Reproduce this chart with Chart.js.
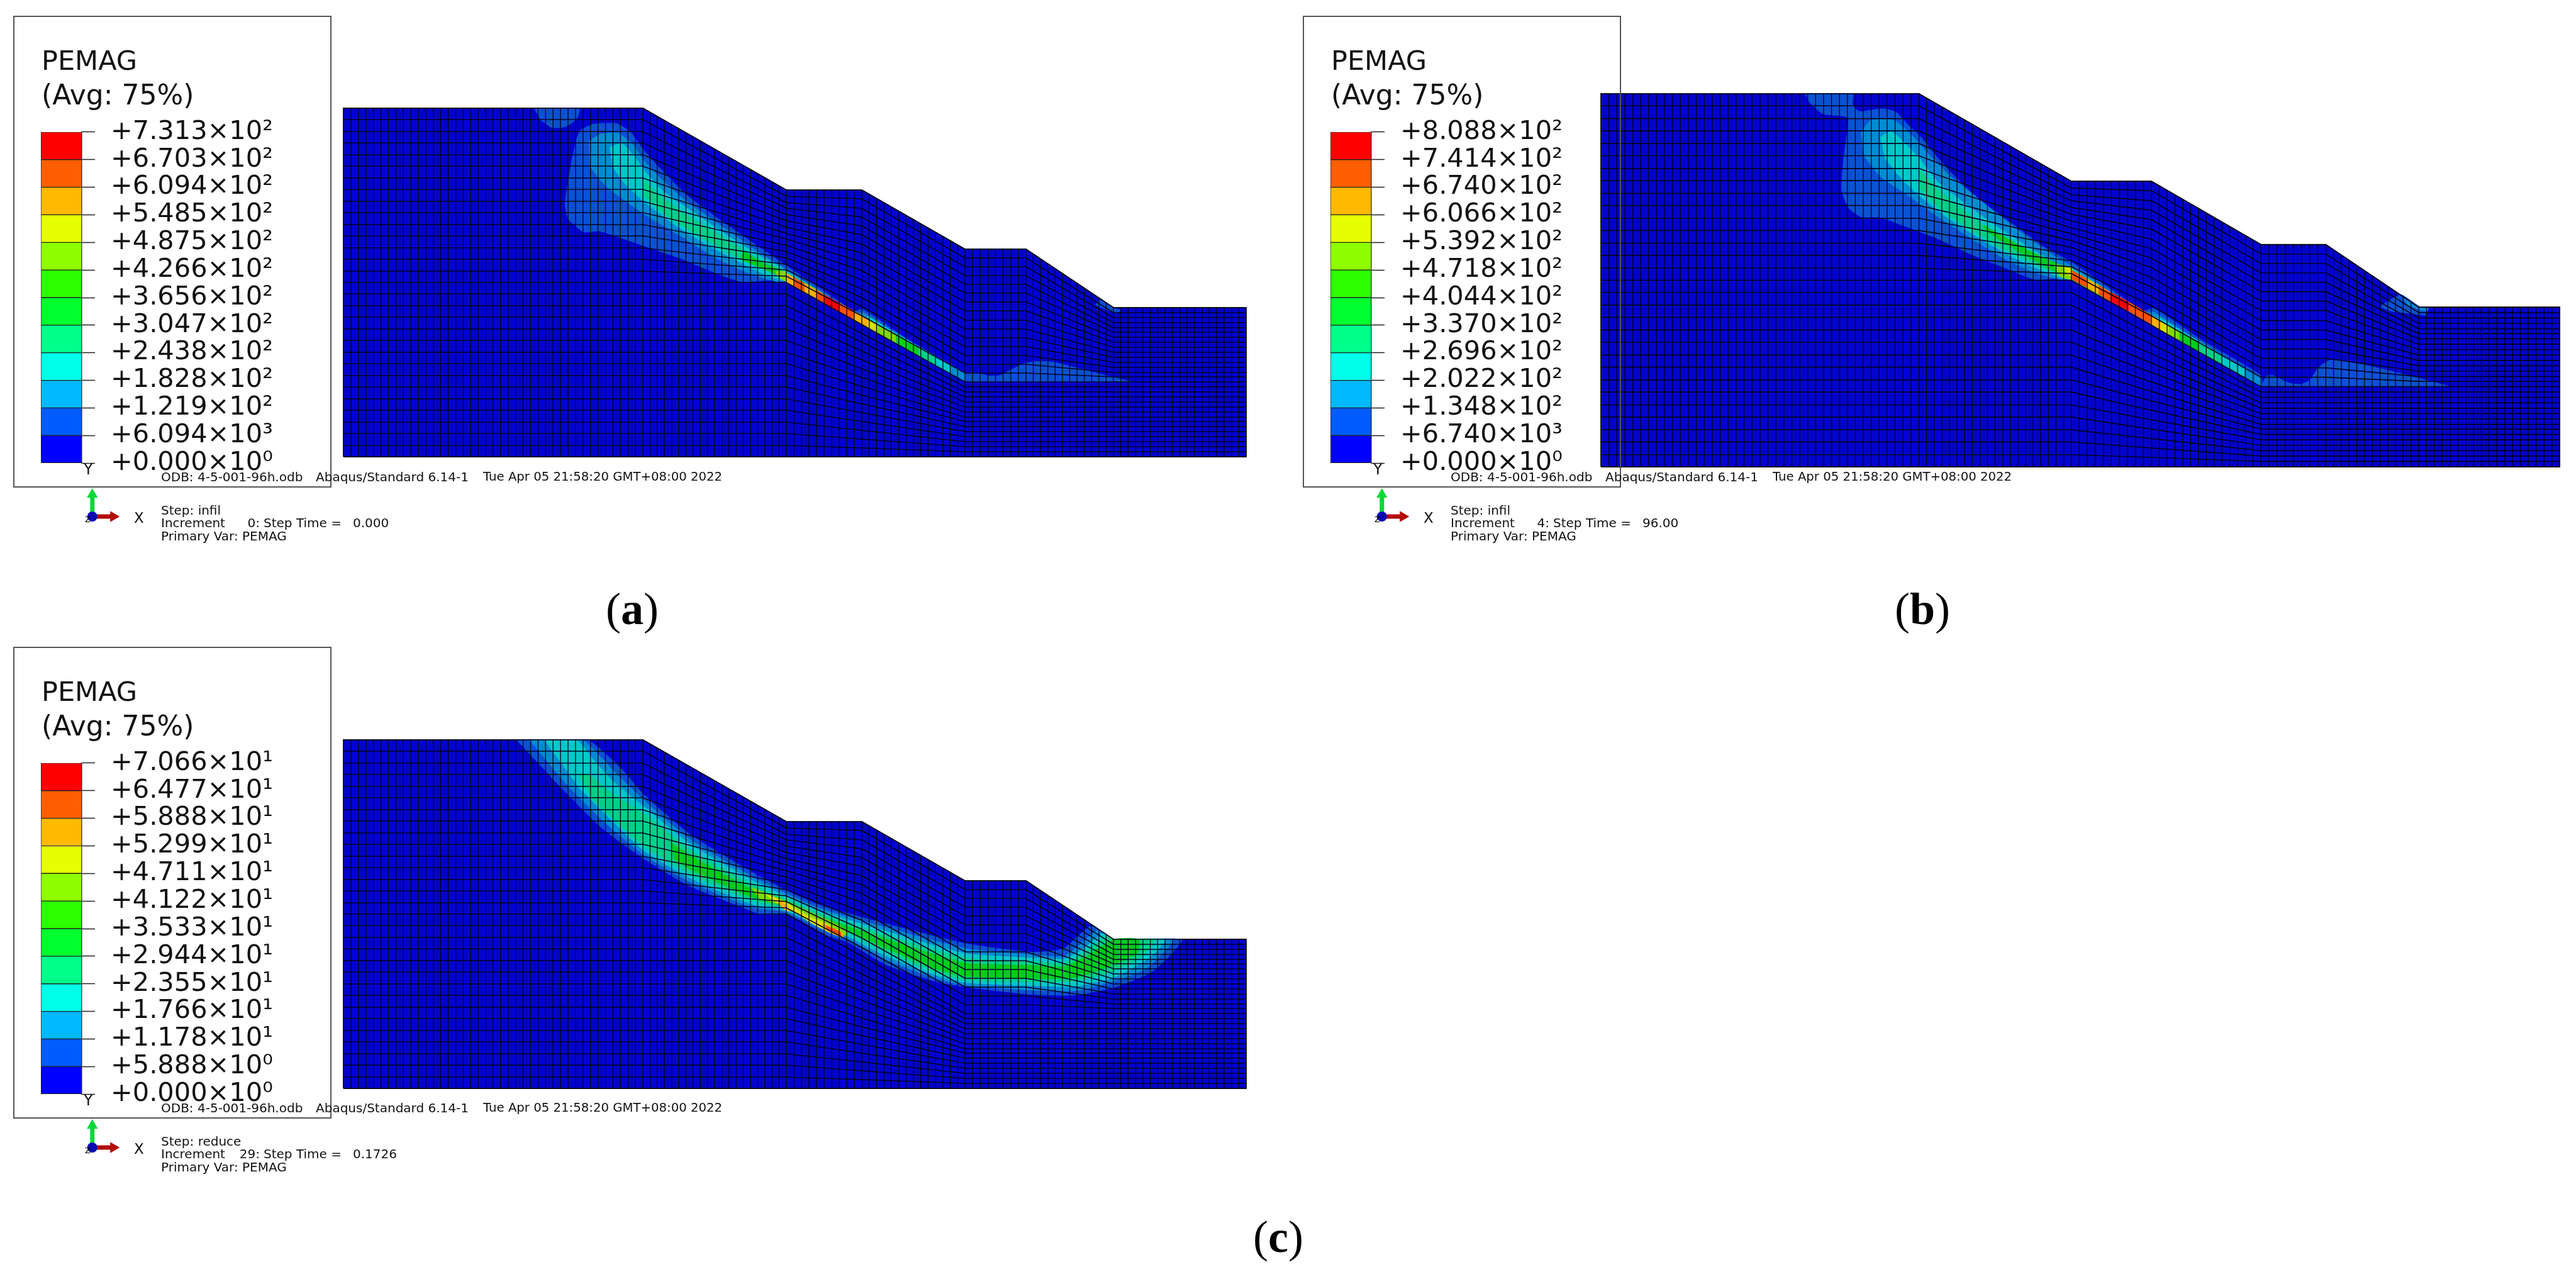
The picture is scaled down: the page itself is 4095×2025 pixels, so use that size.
<!DOCTYPE html>
<html>
<head>
<meta charset="utf-8">
<title>PEMAG</title>
<script src="https://cdn.jsdelivr.net/npm/chart.js@4"></script>
<style>
    html, body { margin: 0; padding: 0; background: #fff; }
    #page { position: relative; width: 4095px; height: 2025px; overflow: hidden; }
    canvas { position: absolute; }
    .txt { position: absolute; white-space: pre; line-height: 1; color: #111; font-family: "DejaVu Sans", sans-serif; z-index: 5; }
    .box { position: absolute; border: 2px solid #555; box-sizing: border-box; z-index: 4; }
    .cap { position: absolute; line-height: 1; color: #000; font-family: "Liberation Serif", serif; font-size: 72px; transform: translateX(-50%); }
</style>
</head>
<body>
<div id="page"></div>
<script>
// legend values
const levelsA = [731.3, 670.3, 609.4, 548.5, 487.5, 426.6, 365.6, 304.7, 243.8, 182.8, 121.9, 60.94, 0]
const levelsB = [808.8, 741.4, 674.0, 606.6, 539.2, 471.8, 404.4, 337.0, 269.6, 202.2, 134.8, 67.40, 0]
const levelsC = [70.66, 64.77, 58.88, 52.99, 47.11, 41.22, 35.33, 29.44, 23.55, 17.66, 11.78, 5.888, 0]

const labelsA = ['+7.313×10²', '+6.703×10²', '+6.094×10²', '+5.485×10²', '+4.875×10²', '+4.266×10²', '+3.656×10²', '+3.047×10²', '+2.438×10²', '+1.828×10²', '+1.219×10²', '+6.094×10³', '+0.000×10⁰']
const labelsB = ['+8.088×10²', '+7.414×10²', '+6.740×10²', '+6.066×10²', '+5.392×10²', '+4.718×10²', '+4.044×10²', '+3.370×10²', '+2.696×10²', '+2.022×10²', '+1.348×10²', '+6.740×10³', '+0.000×10⁰']
const labelsC = ['+7.066×10¹', '+6.477×10¹', '+5.888×10¹', '+5.299×10¹', '+4.711×10¹', '+4.122×10¹', '+3.533×10¹', '+2.944×10¹', '+2.355×10¹', '+1.766×10¹', '+1.178×10¹', '+5.888×10⁰', '+0.000×10⁰']

const bandColors = ['#FF0000', '#FF5F00', '#FFB900', '#E6FF00', '#8FFF00', '#2EFF00', '#00FF2E', '#00FF8B', '#00FFE8', '#00B9FF', '#005CFF', '#0000FF']

// shaded colours on the mesh, index = contour level
const contourColors = ['#0303CC', '#0A52D2', '#008CD2', '#00C8C8', '#00D088', '#00CC20', '#80D800', '#D8E000', '#FFB000', '#FF5000', '#FF0000']

// slope outline, model metres
const outline = [[0, 0], [0, 55.4], [47.6, 55.4], [70.4, 42.4], [82.4, 42.4], [98.8, 33], [108.5, 33], [122.4, 23.7], [143.5, 23.7], [143.5, 0], [0, 0]]

// mesh rows: y of each of the 31 rows at the break columns
const breakX = [0, 47.6, 70.4, 82.4, 98.8, 108.5, 122.4, 143.5]
const rowsLeft = [55.4, 53.6, 51.7, 49.9, 48.0, 46.2, 44.3, 42.5, 40.6, 38.8, 36.9, 35.1, 33.2, 31.4, 29.5, 27.7, 25.9, 24.0, 22.2, 20.3, 18.5, 16.6, 14.8, 12.9, 11.1, 9.2, 7.4, 5.5, 3.7, 1.8, 0]
const rowsBench1 = [42.4, 41.4, 40.4, 39.5, 38.5, 37.5, 36.5, 35.5, 34.6, 33.6, 32.6, 31.6, 30.6, 29.7, 28.7, 27.7, 25.9, 24.0, 22.2, 20.3, 18.5, 16.6, 14.8, 12.9, 11.1, 9.2, 7.4, 5.5, 3.7, 1.8, 0]
const rowsBench1End = [42.4, 41.0, 39.5, 38.1, 36.7, 35.3, 33.8, 32.4, 31.0, 29.6, 28.1, 26.7, 25.3, 23.9, 22.4, 21.0, 19.6, 18.2, 16.8, 15.4, 14.0, 12.6, 11.2, 9.8, 8.4, 7.0, 5.6, 4.2, 2.8, 1.4, 0]
const rowsBench2 = [33.0, 31.6, 30.2, 28.8, 27.4, 26.0, 24.6, 23.2, 21.7, 20.3, 18.9, 17.5, 16.1, 14.7, 13.3, 11.9, 11.1, 10.3, 9.5, 8.7, 7.9, 7.1, 6.3, 5.6, 4.8, 4.0, 3.2, 2.4, 1.6, 0.8, 0]
const rowsToe = [23.7, 22.9, 22.1, 21.3, 20.5, 19.8, 19.0, 18.2, 17.4, 16.6, 15.8, 15.0, 14.2, 13.4, 12.7, 11.9, 11.1, 10.3, 9.5, 8.7, 7.9, 7.1, 6.3, 5.6, 4.8, 4.0, 3.2, 2.4, 1.6, 0.8, 0]
const rowsAtBreak = [rowsLeft, rowsLeft, rowsBench1, rowsBench1End, rowsBench2, rowsBench2, rowsToe, rowsToe]

// mesh columns: x and surface height
const meshColumns = [
    [0, 55.4], [1.19, 55.4], [2.38, 55.4], [3.57, 55.4], [4.76, 55.4], [5.95, 55.4], [7.14, 55.4], [8.33, 55.4], [9.52, 55.4], [10.71, 55.4],
    [11.9, 55.4], [13.09, 55.4], [14.28, 55.4], [15.47, 55.4], [16.66, 55.4], [17.85, 55.4], [19.04, 55.4], [20.23, 55.4], [21.42, 55.4], [22.61, 55.4],
    [23.8, 55.4], [24.99, 55.4], [26.18, 55.4], [27.37, 55.4], [28.56, 55.4], [29.75, 55.4], [30.94, 55.4], [32.13, 55.4], [33.32, 55.4], [34.51, 55.4],
    [35.7, 55.4], [36.89, 55.4], [38.08, 55.4], [39.27, 55.4], [40.46, 55.4], [41.65, 55.4], [42.84, 55.4], [44.03, 55.4], [45.22, 55.4], [46.41, 55.4], [47.6, 55.4],
    [48.74, 54.75], [49.88, 54.1], [51.02, 53.45], [52.16, 52.8], [53.3, 52.15], [54.44, 51.5], [55.58, 50.85], [56.72, 50.2], [57.86, 49.55], [59, 48.9],
    [60.14, 48.25], [61.28, 47.6], [62.42, 46.95], [63.56, 46.3], [64.7, 45.65], [65.84, 45], [66.98, 44.35], [68.12, 43.7], [69.26, 43.05], [70.4, 42.4],
    [71.6, 42.4], [72.8, 42.4], [74, 42.4], [75.2, 42.4], [76.4, 42.4], [77.6, 42.4], [78.8, 42.4], [80, 42.4], [81.2, 42.4], [82.4, 42.4],
    [83.57, 41.73], [84.74, 41.06], [85.91, 40.39], [87.09, 39.71], [88.26, 39.04], [89.43, 38.37], [90.6, 37.7], [91.77, 37.03], [92.94, 36.36], [94.11, 35.69], [95.29, 35.01], [96.46, 34.34], [97.63, 33.67], [98.8, 33],
    [100.01, 33], [101.23, 33], [102.44, 33], [103.65, 33], [104.86, 33], [106.08, 33], [107.29, 33], [108.5, 33],
    [109.66, 32.23], [110.82, 31.45], [111.98, 30.68], [113.13, 29.9], [114.29, 29.13], [115.45, 28.35], [116.61, 27.58], [117.77, 26.8], [118.93, 26.03], [120.08, 25.25], [121.24, 24.48], [122.4, 23.7],
    [123.57, 23.7], [124.74, 23.7], [125.92, 23.7], [127.09, 23.7], [128.26, 23.7], [129.43, 23.7], [130.61, 23.7], [131.78, 23.7], [132.95, 23.7], [134.12, 23.7], [135.29, 23.7], [136.47, 23.7], [137.64, 23.7], [138.81, 23.7], [139.98, 23.7], [141.16, 23.7], [142.33, 23.7], [143.5, 23.7]
]

// contours of plot (a)
const aBlob = [[30.3, 55.4], [37.5, 55.4], [37.1, 53.7], [35.2, 52.4], [33.1, 52.3], [31.3, 53.5]]
const aMain = [[37.7, 52], [39.7, 52.9], [43.3, 53], [45.6, 51.7], [47.7, 48.8], [50.5, 45.7], [54.5, 41.7], [59.7, 37.8], [65.3, 33.9], [70.4, 30.4], [79.7, 24.1], [81, 23], [82.5, 23.5], [90, 18.5], [98.8, 13.4], [99.6, 13], [98.8, 11.9], [70.4, 27.8], [63.2, 27.8], [58.1, 29.6], [53.5, 31.5], [47.7, 33.5], [40.8, 35.8], [38.2, 35.7], [35.7, 37.8], [35.2, 40.2], [36.2, 46.8], [37.1, 50.8]]
const aHump = [[98.8, 11.9], [99.1, 13.3], [100.6, 13.4], [102.6, 12.9], [104.4, 13], [106.2, 13.9], [108.3, 14.9], [110.3, 15.2], [112.8, 15.1], [116.4, 14.2], [121.5, 12.9], [125.6, 11.9]]
const aToe = [[120.2, 25], [122.4, 23.7], [123.6, 23.3], [122.8, 22.8], [121, 23.5], [119.5, 24.1]]
const aSky = [[39, 50.2], [40.8, 51.3], [43.6, 51.5], [45.9, 49.8], [47.7, 47.2], [51, 43.7], [55.1, 40.2], [60.7, 36.3], [65.8, 32.7], [70.4, 29.8], [78.7, 24.3], [80.5, 22.6], [82.7, 22.9], [90, 18], [98, 13], [98.8, 11.9], [70.4, 27.8], [68.8, 27.8], [63.7, 29.4], [58.6, 31.9], [53.5, 35.1], [47.7, 38.6], [41.8, 42.9], [39.2, 46]]
const aCyan = [[42.3, 49.2], [44.3, 49.8], [46.4, 47.6], [47.7, 45.7], [51, 42.1], [56.1, 38.6], [61.2, 35.1], [66.3, 31.9], [70.4, 29.6], [70.4, 27.9], [67.3, 28.8], [63.2, 30.8], [58.1, 33.5], [53, 36.6], [47.7, 40.6], [44.8, 43.3], [42.8, 46]]
const aSpring = [[47.7, 44.1], [50.5, 41.4], [55.1, 38.2], [60.7, 34.7], [65.3, 31.9], [69.9, 29.6], [69.9, 28.4], [66.3, 30], [62.2, 31.9], [57.1, 34.7], [51.5, 38.2], [47.7, 41.4]]
const aGreen = [[63.7, 32.7], [66.3, 31], [69.9, 29.4], [69.9, 28.6], [66.3, 30], [63, 31.4]]
const aLime = [[68.5, 29.5], [70.4, 29.4], [71.5, 27.3], [70.4, 27.8], [69.3, 28.4]]

// contours of plot (b)
const bMain = [[30.5, 55.4], [37.7, 55.4], [37.7, 53.8], [38.7, 52.8], [41.8, 53.2], [44, 52.8], [46.1, 50.7], [47.7, 49.2], [50.5, 45.8], [53.8, 42.3], [57.2, 39.3], [62, 35.8], [66.8, 32.4], [70.5, 30.4], [79.5, 24.2], [81, 23], [82.7, 23.6], [90, 18.8], [98.8, 13.6], [98.8, 11.9], [70.5, 27.8], [64.9, 27.8], [60, 29.7], [55.2, 31.6], [50, 34], [45.2, 35.8], [41.8, 37], [38.9, 37.1], [37, 38.5], [36, 41.2], [36.3, 45.8], [37, 51.5], [36.5, 52], [33.2, 52.4], [31.2, 54.1]]
const bHump = [[98.8, 11.9], [99.6, 13.5], [100.6, 13.6], [103, 12.5], [104.7, 12.3], [106.1, 12.9], [107.3, 14.7], [109.2, 15.9], [111.6, 15.7], [116.9, 14.6], [123.2, 13], [127.3, 11.9]]
const bToe = [[116.7, 23.9], [118.4, 25], [119.8, 25.6], [122.7, 23.75], [123.9, 23.6], [123.4, 22.5], [121.7, 22.7], [118.6, 23], [116.9, 23.6]]
const bToeSky = [[120, 25.1], [122.7, 23.7], [123.9, 23.5], [123.2, 23.1], [120.8, 24]]
const bSky = [[38.9, 49.6], [40.4, 51.5], [43.7, 51.6], [46.6, 49.2], [49, 46.5], [52.4, 43.1], [57.2, 39.3], [62, 35.5], [66.8, 32], [70.5, 29.8], [79, 24.2], [80.8, 22.6], [82.7, 23], [90, 18.2], [98, 13.2], [98.8, 11.9], [70.5, 27.8], [68.7, 27.8], [64.4, 29], [59.6, 31.3], [54.8, 34.3], [50, 37.4], [45.2, 40.8], [41.8, 43.1], [39.4, 46.1]]
const bCyan = [[41.8, 49], [43.5, 49.8], [45.6, 48], [47.7, 45.8], [50.5, 42.3], [54.8, 38.9], [59.6, 35.5], [64.4, 32.4], [68.7, 29.9], [70.5, 29.2], [70.2, 27.8], [66.8, 28.8], [62, 30.9], [57.2, 33.6], [52.4, 36.6], [47.7, 40.2], [44.7, 43.1], [42.5, 45.8]]
const bSpring = [[47.7, 44.2], [50.5, 41.2], [54.8, 37.8], [59.6, 34.3], [64.4, 31.7], [69.2, 29.6], [69.2, 28.2], [64.4, 30.3], [59.6, 32.6], [54.8, 35.5], [50.5, 38.5], [47.7, 41.2]]
const bGreen = [[57.2, 36], [64.4, 32], [69.2, 29.7], [69.2, 28.5], [64.4, 30.8], [57.6, 35]]
const bLime = [[67.7, 30.1], [70.5, 29.6], [70.5, 27.8], [68.7, 28.2]]
const bYellow = [[69.4, 29.6], [70.5, 29.4], [70.5, 28.2], [69.7, 28.6]]

// band above the slip line, shared by (a) and (b)
const slipCyan1 = [[70.4, 29.5], [77.5, 25.2], [77.5, 24], [70.4, 27.8]]
const slipCyan2 = [[83.3, 22.4], [96.5, 14.4], [96.5, 13.2], [83.3, 20.6]]
const slipGreen1 = [[70.4, 29.2], [75.5, 26.4], [75.5, 25.1], [70.4, 27.8]]

// elements along the slip line: level, x1, low1, x2, low2, high2, high1
const aCells = [
    [8, 70.4, 27.8, 71.5, 27.2, 28.6, 29.2], [9, 71.5, 27.2, 73.3, 26.2, 27.6, 28.6], [8, 73.3, 26.2, 75.1, 25.2, 26.6, 27.6],
    [9, 75.1, 25.2, 76.4, 24.4, 25.8, 26.6], [10, 76.4, 24.4, 78.8, 23.1, 24.5, 25.8], [9, 78.8, 23.1, 81.2, 21.8, 23.2, 24.5],
    [8, 81.2, 21.8, 83.3, 20.6, 22, 23.2], [7, 83.3, 20.6, 84.8, 19.7, 21.1, 22], [6, 84.8, 19.7, 87.8, 18.1, 19.5, 21.1],
    [5, 87.8, 18.1, 91.4, 16, 17.4, 19.5], [4, 91.4, 16, 94, 14.6, 16, 17.4], [3, 94, 14.6, 96.5, 13.2, 14.6, 16], [2, 96.5, 13.2, 98.8, 11.9, 13.3, 14.6]
]
const bCells = [
    [9, 70.5, 27.8, 72.7, 26.6, 28, 29.2], [8, 72.7, 26.6, 74.5, 25.6, 27, 28], [9, 74.5, 25.6, 76.2, 24.6, 26, 27],
    [10, 76.2, 24.6, 79, 23.1, 24.5, 26], [9, 79, 23.1, 82.3, 21.2, 22.6, 24.5], [8, 82.3, 21.2, 83.8, 20.3, 21.7, 22.6],
    [7, 83.8, 20.3, 85, 19.6, 21, 21.7], [6, 85, 19.6, 86.6, 18.8, 20.2, 21], [5, 86.6, 18.8, 89.5, 17.1, 18.5, 20.2],
    [4, 89.5, 17.1, 92.9, 15.2, 16.6, 18.5], [3, 92.9, 15.2, 96.3, 13.3, 14.7, 16.6], [2, 96.3, 13.3, 98.8, 11.9, 13.3, 14.7]
]

// contours of plot (c)
const cBlue = [[27.5, 55.4], [38.7, 55.4], [41.8, 53.1], [44.3, 50.7], [47.7, 46.8], [55.1, 40.4], [64.8, 34.5], [70.4, 31.5], [75.6, 29.2], [86.3, 26.2], [98.8, 23.1], [109.3, 21.7], [114.4, 22.2], [116.4, 23.9], [119, 25.9], [122.4, 23.7], [133.3, 23.7], [131.2, 20.9], [128.2, 18.3], [122.4, 16], [116.4, 14.8], [109.3, 14.9], [98.8, 16.1], [94, 17], [86.3, 19.6], [80.2, 23.2], [77.1, 24.2], [70.4, 27.7], [66.3, 27.6], [64.8, 28.2], [55.1, 32.1], [47.7, 36.5], [40.8, 41.6], [34.1, 48.3]]
const cSky = [[29.5, 55.4], [37.9, 55.4], [41, 52.6], [43.6, 49.8], [47.7, 45.9], [55.1, 39.6], [64.8, 33.8], [70.4, 31], [75.6, 28.7], [86.3, 25.6], [98.8, 22.3], [109.3, 21.3], [114.4, 21], [116.4, 22.3], [120, 25.2], [122.4, 23.7], [131.9, 23.7], [129.8, 21], [127.2, 18.8], [122.4, 17], [116.4, 15.5], [109.3, 15.6], [98.8, 16.4], [94, 17.5], [86.3, 20.4], [80.2, 23.7], [77.1, 24.7], [70.4, 28], [64.8, 28.8], [55.1, 32.8], [47.7, 37.1], [41.5, 42.3], [35.7, 48]]
const cCyan = [[31.9, 55.4], [37, 55.4], [40, 52], [42.8, 48.9], [47.7, 44.9], [55.1, 38.9], [64.8, 33.2], [70.4, 30.6], [75.6, 28.3], [86.3, 25], [98.8, 21.5], [109.3, 20.8], [114.4, 20.6], [117, 21.8], [120.9, 24.7], [122.4, 23.7], [130.6, 23.7], [128.7, 21.2], [126, 19.4], [122.4, 17.6], [116.4, 16.2], [109.3, 16.3], [98.8, 16.8], [94, 18], [86.3, 21], [80.2, 24.1], [77.1, 25.2], [70.4, 28.2], [64.8, 29.3], [55.1, 33.4], [47.7, 37.8], [42.5, 42.7], [37.4, 47.8]]
const cSpring = [[37.3, 50], [39.3, 49.8], [42, 47.4], [47.7, 43.8], [55.1, 38], [64.8, 32.5], [70.4, 30.2], [75.6, 27.9], [86.3, 24.4], [98.8, 20.8], [109.3, 20.2], [114.4, 20], [118, 21.8], [121.5, 24.3], [122.4, 23.7], [129, 23.7], [127.5, 21.5], [125.3, 20], [122.4, 18.6], [116.4, 17], [109.3, 16.9], [98.8, 17.2], [94, 18.5], [86.3, 21.6], [80.2, 24.6], [77.1, 25.6], [70.4, 28.5], [64.8, 29.9], [55.1, 34.1], [47.7, 38.5], [43.2, 42.5], [39.5, 46]]
const cGreen = [[52, 39.1], [55.1, 37.1], [64.8, 31.8], [70.4, 29.8], [75.6, 27.4], [86.3, 23.8], [98.8, 20], [109.3, 19.6], [114.4, 19.4], [118, 21], [122.4, 23.7], [126.5, 23.7], [126.2, 21.5], [124.5, 20.5], [122.4, 19.6], [116.4, 17.6], [109.3, 17.4], [98.8, 17.8], [94, 19], [86.3, 22.2], [80.2, 25], [77.1, 26], [70.4, 28.8], [64.8, 30.4], [55.1, 34.8], [52.5, 36.4]]
const cLime = [[64.8, 32], [70.4, 29.8], [75.6, 27.4], [79, 25.8], [80.2, 24.3], [77.1, 24.9], [75, 26], [70.4, 28.8], [66, 30.2]]
const cYellow = [[67, 31], [70.4, 29.5], [74, 27.4], [77.5, 25.8], [77.2, 25], [75, 25.9], [70.4, 28.8], [68, 30]]
const cAmber1 = [[69, 30.2], [70.4, 29.2], [71, 28.2], [70.4, 28.2], [69.3, 29.2]]
const cAmber2 = [[76, 26.3], [79.3, 24.8], [79.5, 23.9], [76.7, 25]]
const cOrange = [[76.5, 26], [79, 24.9], [79.2, 24.2], [77, 25.2]]

const contoursA = [[1, aBlob], [1, aMain], [1, aHump], [1, aToe], [2, aSky], [3, aCyan], [3, slipCyan1], [3, slipCyan2], [4, aSpring], [5, aGreen], [5, slipGreen1], [6, aLime]]
const contoursB = [[1, bMain], [1, bHump], [1, bToe], [2, bToeSky], [2, bSky], [3, bCyan], [3, slipCyan1], [3, slipCyan2], [4, bSpring], [5, bGreen], [5, slipGreen1], [6, bLime], [7, bYellow]]
const contoursC = [[1, cBlue], [2, cSky], [3, cCyan], [4, cSpring], [5, cGreen], [6, cLime], [7, cYellow], [8, cAmber1], [8, cAmber2], [9, cOrange]]

const panels = [
    { plot: [546, 172, 1435, 554], dx: 0, dy: 0, levels: levelsA, labels: labelsA, contours: contoursA, cells: aCells, step: 'infil', inc: '0:', time: '0.000', cap: 'a', capX: 1005 },
    { plot: [2545, 149, 1524, 593], dx: 2050, dy: 0, levels: levelsB, labels: labelsB, contours: contoursB, cells: bCells, step: 'infil', inc: '4:', time: '96.00', cap: 'b', capX: 3056 },
    { plot: [546, 1176, 1435, 554], dx: 0, dy: 1003, levels: levelsC, labels: labelsC, contours: contoursC, cells: [], step: 'reduce', inc: '29:', time: '0.1726', cap: 'c', capX: 2032 }
]

const page = document.getElementById('page')

function addCanvas(left, top, width, height) {
    const canvas = document.createElement('canvas')
    canvas.width = width
    canvas.height = height
    canvas.style.left = left + 'px'
    canvas.style.top = top + 'px'
    page.appendChild(canvas)
    return canvas
}

function addText(x, y, text, size, extra) {
    const div = document.createElement('div')
    div.className = 'txt'
    div.textContent = text
    div.style.left = x + 'px'
    div.style.top = y + 'px'
    div.style.fontSize = size + 'px'
    if (extra) Object.assign(div.style, extra)
    page.appendChild(div)
    return div
}

const toPoints = (pairs) => pairs.map((p) => ({ x: p[0], y: p[1] }))

function polygon(pairs, color, tension) {
    return { data: toPoints(pairs), showLine: true, fill: 'shape', backgroundColor: color, borderWidth: 0, pointRadius: 0, tension: tension, clip: false }
}

function meshLine(points, width) {
    return { data: points, showLine: true, fill: false, borderColor: '#02021e', borderWidth: width, pointRadius: 0, tension: 0, clip: false }
}

function drawMesh(panel) {
    const [left, top, width, height] = panel.plot
    let datasets = []

    datasets.push({ data: toPoints(outline), showLine: true, fill: 'shape', backgroundColor: contourColors[0], borderColor: '#333', borderWidth: 2, pointRadius: 0, tension: 0, clip: false })

    panel.contours.map((c) => {
        datasets.push(polygon(c[1], contourColors[c[0]], 0.2))
    })
    panel.cells.map((c) => {
        datasets.push(polygon([[c[1], c[2]], [c[3], c[4]], [c[3], c[5]], [c[1], c[6]]], contourColors[c[0]], 0))
    })

    meshColumns.map((c) => {
        datasets.push(meshLine([{ x: c[0], y: 0 }, { x: c[0], y: c[1] }], 1.3))
    })
    rowsLeft.map((_, k) => {
        datasets.push(meshLine(breakX.map((x, i) => ({ x: x, y: rowsAtBreak[i][k] })), 1.7))
    })

    // first dataset is painted first
    datasets.map((d, i) => { d.order = datasets.length - i })

    new Chart(addCanvas(left - 3, top - 3, width + 6, height + 6), {
        type: 'scatter',
        data: { datasets: datasets },
        options: {
            responsive: false,
            animation: false,
            events: [],
            layout: { padding: 3 },
            plugins: { legend: { display: false }, tooltip: { enabled: false } },
            scales: {
                x: { type: 'linear', display: false, min: 0, max: 143.5 },
                y: { type: 'linear', display: false, min: 0, max: 55.4 }
            }
        }
    })
}

function drawLegend(panel) {
    const levels = panel.levels
    const labels = panel.labels

    new Chart(addCanvas(60 + panel.dx, 160 + panel.dy, 400, 626), {
        type: 'bar',
        data: {
            labels: ['PEMAG'],
            datasets: bandColors.map((color, i) => ({
                data: [[levels[i + 1], levels[i]]],
                backgroundColor: color,
                borderColor: '#222',
                borderWidth: 1,
                borderSkipped: false,
                barPercentage: 1,
                categoryPercentage: 1
            }))
        },
        options: {
            responsive: false,
            animation: false,
            events: [],
            layout: { padding: { left: 5, right: 0, top: 30, bottom: 30 } },
            plugins: { legend: { display: false }, tooltip: { enabled: false } },
            scales: {
                x: { display: false, stacked: true },
                y: {
                    position: 'right',
                    min: 0,
                    max: levels[0],
                    afterBuildTicks: (scale) => { scale.ticks = levels.map((v) => ({ value: v })) },
                    afterFit: (scale) => { scale.width = 330 },
                    grid: { drawOnChartArea: false, tickLength: 21, tickColor: '#222', tickWidth: 1.5 },
                    border: { display: true, color: '#222', width: 1.5 },
                    ticks: {
                        autoSkip: false,
                        padding: 25,
                        color: '#111',
                        font: { family: 'DejaVu Sans', size: 41.5 },
                        callback: (value, index) => labels[index]
                    }
                }
            }
        }
    })
}

function drawTriad(panel) {
    new Chart(addCanvas(122 + panel.dx, 762 + panel.dy, 90, 90), {
        type: 'scatter',
        data: {
            datasets: [
                { data: [{ x: 19, y: 27 }], pointRadius: 8, pointBackgroundColor: '#0A0AB4', pointBorderWidth: 0, order: 0 },
                { data: [{ x: 19, y: 27 }, { x: 19, y: 72 }], showLine: true, borderColor: '#00D838', borderWidth: 7, pointRadius: [0, 10], pointStyle: 'triangle', pointBackgroundColor: '#00D838', pointBorderWidth: 0, order: 1 },
                { data: [{ x: 19, y: 27 }, { x: 62, y: 27 }], showLine: true, borderColor: '#B40A0A', borderWidth: 7, pointRadius: [0, 10], pointStyle: 'triangle', pointRotation: 90, pointBackgroundColor: '#B40A0A', pointBorderWidth: 0, order: 2 }
            ]
        },
        options: {
            responsive: false,
            animation: false,
            events: [],
            plugins: { legend: { display: false }, tooltip: { enabled: false } },
            scales: {
                x: { type: 'linear', display: false, min: 0, max: 90 },
                y: { type: 'linear', display: false, min: 0, max: 90 }
            }
        }
    })
}

function drawTexts(panel) {
    const dx = panel.dx
    const dy = panel.dy

    const box = document.createElement('div')
    box.className = 'box'
    box.style.left = 21 + dx + 'px'
    box.style.top = 25 + dy + 'px'
    box.style.width = '506px'
    box.style.height = '750px'
    page.appendChild(box)

    addText(66 + dx, 75 + dy, 'PEMAG', 43)
    addText(66 + dx, 129 + dy, '(Avg: 75%)', 44)
    addText(133 + dx, 734 + dy, 'Y', 24)
    addText(213 + dx, 812 + dy, 'X', 23)
    addText(135 + dx, 819 + dy, 'Z', 13, { color: '#000' })

    addText(256 + dx, 748 + dy, 'ODB: 4-5-001-96h.odb', 20)
    addText(502 + dx, 748 + dy, 'Abaqus/Standard 6.14-1', 20)
    addText(768 + dx, 748 + dy, 'Tue Apr 05 21:58:20 GMT+08:00 2022', 19.7)

    addText(256 + dx, 801 + dy, 'Step: ' + panel.step, 20)
    addText(256 + dx, 821 + dy, 'Increment', 20)
    const inc = addText(0, 821 + dy, panel.inc, 20)
    inc.style.right = (4095 - 413 - dx) + 'px'
    inc.style.left = 'auto'
    addText(419 + dx, 821 + dy, 'Step Time =', 20)
    addText(561 + dx, 821 + dy, panel.time, 20)
    addText(256 + dx, 842 + dy, 'Primary Var: PEMAG', 20)

    const cap = document.createElement('div')
    cap.className = 'cap'
    cap.style.left = panel.capX + 'px'
    cap.style.top = (panel.dy ? 1930 : 932) + 'px'
    cap.append('(')
    const letter = document.createElement('b')
    letter.textContent = panel.cap
    cap.appendChild(letter)
    cap.append(')')
    page.appendChild(cap)
}

panels.map((panel) => {
    drawMesh(panel)
    drawLegend(panel)
    drawTriad(panel)
    drawTexts(panel)
})
</script>
</body>
</html>
